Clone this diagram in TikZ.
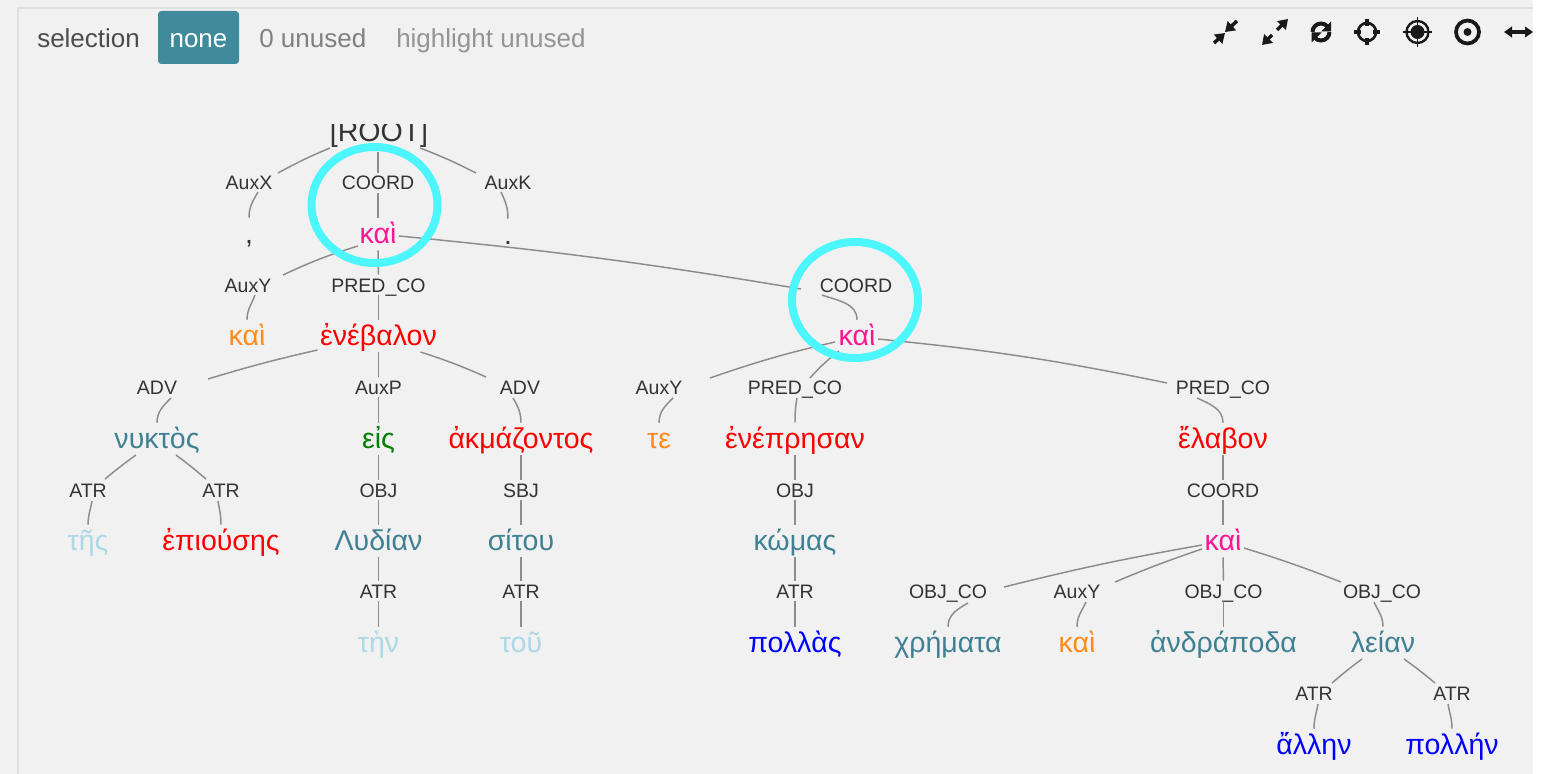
\documentclass[tikz,border=0pt]{standalone}
\usepackage{fontspec}
\setmainfont{Liberation Sans}
\usetikzlibrary{arrows.meta}
\definecolor{panelbg}{HTML}{F1F1F1}
\definecolor{panelline}{HTML}{DFDFDF}
\definecolor{btnteal}{HTML}{3F8A9B}
\definecolor{nounteal}{HTML}{3F8093}
\definecolor{verbred}{HTML}{FF0000}
\definecolor{conjpink}{HTML}{FF1493}
\definecolor{partorange}{HTML}{FF8C1A}
\definecolor{artblue}{HTML}{ADD8E6}
\definecolor{adjblue}{HTML}{0000FF}
\definecolor{prepgreen}{HTML}{008000}
\definecolor{ringcyan}{HTML}{4DF6FB}
\definecolor{labelgray}{HTML}{333333}
\definecolor{linkgray}{HTML}{8C8C8C}
\tikzset{
    word/.style={inner sep=0pt, text height=18.75pt, text depth=5.25pt, text=#1, font=\fontsize{21.4}{25}\selectfont},
    rel/.style={inner sep=0pt, text height=12.75pt, text depth=2.25pt, text=labelgray, font=\fontsize{14.6}{17}\selectfont},
    head/.style={inner sep=0pt, text=#1, font=\fontsize{19.5}{23}\selectfont},
    link/.style={draw=linkgray, line width=1.1pt},
    ring/.style={draw=ringcyan, line width=6pt},
    iconline/.style={draw=black!90, line width=#1},
}
\begin{document}
\begin{tikzpicture}[x=0.75pt, y=-0.75pt]
        \useasboundingbox (0, 0) rectangle (1547, 774);
        \fill [panelbg] (0, 0) rectangle (1533, 774);
        \fill [white] (1533, 0) rectangle (1547, 774);
        \draw [panelline, line width=1.5pt] (18, 774) -- (18, 8) -- (1533, 8);

        \node [head=black!70, anchor=base west] (selection) at (37, 48) {selection};
        \node [head=white, fill=btnteal, rounded corners=2.5pt, minimum width=60.75pt, minimum height=39.75pt, text height=15.75pt, text depth=0pt] (none) at (198.5, 37.5) {none};
        \node [head=black!50, anchor=base west] (unused) at (259, 48) {0 unused};
        \node [head=black!42, anchor=base west] (highlight) at (396, 48) {highlight unused};

        \begin{scope}
            \clip (300, 124.5) rectangle (460, 160);
            \node [inner sep=0pt, text=labelgray, anchor=base, font=\fontsize{21.4}{25}\selectfont] (root) at (379, 142) {[ROOT]};
        \end{scope}

        \node [rel] (auxx) at (249, 183) {AuxX};
        \node [rel] (coorda) at (378, 183) {COORD};
        \node [rel] (auxk) at (508, 183) {AuxK};
        \node [word=labelgray] (comma) at (249, 234) {,};
        \node [word=conjpink] (kaia) at (378, 234) {καὶ};
        \node [word=labelgray] (period) at (508, 235) {.};

        \node [rel] (auxya) at (248, 285) {AuxY};
        \node [rel] (predcoa) at (378.5, 285) {PRED\_CO};
        \node [rel] (coordb) at (856, 285) {COORD};
        \node [word=partorange] (kaib) at (247, 336) {καὶ};
        \node [word=verbred] (enebalon) at (378.5, 336) {ἐνέβαλον};
        \node [word=conjpink] (kaic) at (857, 336) {καὶ};

        \node [rel] (adva) at (157, 387) {ADV};
        \node [rel] (auxp) at (378.5, 387) {AuxP};
        \node [rel] (advb) at (520, 387) {ADV};
        \node [rel] (auxyb) at (659, 387) {AuxY};
        \node [rel] (predcob) at (795, 387) {PRED\_CO};
        \node [rel] (predcoc) at (1223, 387) {PRED\_CO};
        \node [word=nounteal] (nyktos) at (157, 439) {νυκτὸς};
        \node [word=prepgreen] (eis) at (378.5, 439) {εἰς};
        \node [word=verbred] (akmazontos) at (521, 439) {ἀκμάζοντος};
        \node [word=partorange] (te) at (659, 439) {τε};
        \node [word=verbred] (eneprisan) at (795, 439) {ἐνέπρησαν};
        \node [word=verbred] (elabon) at (1223, 439) {ἔλαβον};

        \node [rel] (atra) at (88, 490) {ATR};
        \node [rel] (atrb) at (221, 490) {ATR};
        \node [rel] (obja) at (378.5, 490) {OBJ};
        \node [rel] (sbj) at (521, 490) {SBJ};
        \node [rel] (objb) at (795, 490) {OBJ};
        \node [rel] (coordc) at (1223, 490) {COORD};
        \node [word=artblue] (tes) at (88, 541) {τῆς};
        \node [word=verbred] (epiouses) at (221, 541) {ἐπιούσης};
        \node [word=nounteal] (lydian) at (378.5, 541) {Λυδίαν};
        \node [word=nounteal] (sitou) at (521, 541) {σίτου};
        \node [word=nounteal] (komas) at (795, 541) {κώμας};
        \node [word=conjpink] (kaid) at (1223, 541) {καὶ};

        \node [rel] (atrc) at (378.5, 591) {ATR};
        \node [rel] (atrd) at (521, 591) {ATR};
        \node [rel] (atre) at (795, 591) {ATR};
        \node [rel] (objcoa) at (948, 591) {OBJ\_CO};
        \node [rel] (auxyc) at (1077, 591) {AuxY};
        \node [rel] (objcob) at (1223.5, 591) {OBJ\_CO};
        \node [rel] (objcoc) at (1382, 591) {OBJ\_CO};
        \node [word=artblue] (ten) at (378.5, 643) {τὴν};
        \node [word=artblue] (tou) at (521, 643) {τοῦ};
        \node [word=adjblue] (pollas) at (795, 643) {πολλὰς};
        \node [word=nounteal] (chremata) at (948, 643) {χρήματα};
        \node [word=partorange] (kaie) at (1077, 643) {καὶ};
        \node [word=nounteal] (andrapoda) at (1223.5, 643) {ἀνδράποδα};
        \node [word=nounteal] (leian) at (1383, 643) {λείαν};

        \node [rel] (atrf) at (1314, 693) {ATR};
        \node [rel] (atrg) at (1452, 693) {ATR};
        \node [word=adjblue] (allen) at (1314, 745) {ἄλλην};
        \node [word=adjblue] (pollen) at (1452, 745) {πολλήν};

        \draw [link] ([shift={(-49,6)}]root.base) to [bend right=3] ([shift={(29,-10)}]auxx.center);
        \draw [link] ([shift={(-1,10)}]root.base) -- (coorda.north);
        \draw [link] ([shift={(41,6)}]root.base) to [bend left=3] ([shift={(-32,-10)}]auxk.center);
        \draw [link] ([shift={(9,9)}]auxx.center) to [out=-120, in=90] (comma.north);
        \draw [link] (coorda.south) -- (kaia.north);
        \draw [link] ([shift={(-7,9)}]auxk.center) to [out=-65, in=90] (period.north);

        \draw [link] ([shift={(-20,12)}]kaia.center) to [bend right=4] ([shift={(35,-10)}]auxya.center);
        \draw [link] (kaia.south) -- (predcoa.north);
        \draw [link] ([shift={(21,2)}]kaia.center) to [bend left=2] ([shift={(-55,4)}]coordb.center);
        \draw [link] ([shift={(7,10)}]auxya.center) to [out=-110, in=90] (kaib.north);
        \draw [link] (predcoa.south) -- (enebalon.north);
        \draw [link] ([shift={(-34,10)}]coordb.center) to [out=-20, in=90] (kaic.north);

        \draw [link] ([shift={(-61,14)}]enebalon.center) to [bend right=2] ([shift={(51,-8)}]adva.center);
        \draw [link] (enebalon.south) -- (auxp.north);
        \draw [link] ([shift={(42,16)}]enebalon.center) to [bend left=3] ([shift={(-34,-10)}]advb.center);
        \draw [link] ([shift={(-22,6)}]kaic.center) to [bend right=3] ([shift={(51,-9)}]auxyb.center);
        \draw [link] ([shift={(-18,15)}]kaic.center) to [bend right=5] ([shift={(15,-9)}]predcob.center);
        \draw [link] ([shift={(21,3)}]kaic.center) to [bend left=3] ([shift={(-56,-4)}]predcoc.center);

        \draw [link] ([shift={(14,11)}]adva.center) to [out=-135, in=90] (nyktos.north);
        \draw [link] (auxp.south) -- (eis.north);
        \draw [link] ([shift={(-7,11)}]advb.center) to [out=-60, in=90] (akmazontos.north);
        \draw [link] ([shift={(14,11)}]auxyb.center) to [out=-135, in=90] (te.north);
        \draw [link] ([shift={(2,11)}]predcob.center) to [out=-100, in=90] (eneprisan.north);
        \draw [link] ([shift={(-26,11)}]predcoc.center) to [out=-25, in=90] (elabon.north);

        \draw [link] ([shift={(-21,16)}]nyktos.center) to [bend right=2] ([shift={(17,-11)}]atra.center);
        \draw [link] ([shift={(19,16)}]nyktos.center) to [bend left=2] ([shift={(-15,-11)}]atrb.center);
        \draw [link] (eis.south) -- (obja.north);
        \draw [link] (akmazontos.south) -- (sbj.north);
        \draw [link] (eneprisan.south) -- (objb.north);
        \draw [link] (elabon.south) -- (coordc.north);

        \draw [link] ([shift={(4,11)}]atra.center) to [out=-100, in=90] (tes.north);
        \draw [link] ([shift={(-3,11)}]atrb.center) to [out=-80, in=90] (epiouses.north);
        \draw [link] (obja.south) -- (lydian.north);
        \draw [link] (sbj.south) -- (sitou.north);
        \draw [link] (objb.south) -- (komas.north);
        \draw [link] (coordc.south) -- (kaid.north);

        \draw [link] (lydian.south) -- (atrc.north);
        \draw [link] (sitou.south) -- (atrd.north);
        \draw [link] (komas.south) -- (atre.north);
        \draw [link] ([shift={(-21,4)}]kaid.center) to [bend right=2] ([shift={(56,-4)}]objcoa.center);
        \draw [link] ([shift={(-21,8)}]kaid.center) to [bend right=2] ([shift={(38,-9)}]auxyc.center);
        \draw [link] (kaid.south) -- (objcob.north);
        \draw [link] ([shift={(21,7)}]kaid.center) to [bend left=2] ([shift={(-41,-9)}]objcoc.center);

        \draw [link] (atrc.south) -- (ten.north);
        \draw [link] (atrd.south) -- (tou.north);
        \draw [link] (atre.south) -- (pollas.north);
        \draw [link] ([shift={(20,12)}]objcoa.center) to [out=-150, in=90] (chremata.north);
        \draw [link] ([shift={(9,11)}]auxyc.center) to [out=-115, in=90] (kaie.north);
        \draw [link] (objcob.south) -- (andrapoda.north);
        \draw [link] ([shift={(-8,11)}]objcoc.center) to [out=-65, in=90] (leian.north);

        \draw [link] ([shift={(-21,16)}]leian.center) to [bend right=2] ([shift={(18,-10)}]atrf.center);
        \draw [link] ([shift={(21,16)}]leian.center) to [bend left=2] ([shift={(-17,-10)}]atrg.center);
        \draw [link] ([shift={(4,11)}]atrf.center) to [out=-100, in=90] (allen.north);
        \draw [link] ([shift={(-4,11)}]atrg.center) to [out=-80, in=90] (pollen.north);

        \draw [ring] (374.5, 205) ellipse (63 and 58);
        \draw [ring] (855, 300) ellipse (63 and 58);

        \draw [iconline=2.6pt, -{Triangle[length=7pt, width=9pt]}] (1237, 21) -- (1225, 32);
        \draw [iconline=2.6pt, -{Triangle[length=7pt, width=9pt]}] (1214, 43) -- (1225, 33);
        \draw [iconline=2.6pt, -{Triangle[length=7pt, width=9pt]}] (1272, 35) -- (1262, 45);
        \draw [iconline=2.6pt, -{Triangle[length=7pt, width=9pt]}] (1277, 30) -- (1288, 19);
        \draw [iconline=3pt] (1312.5, 32) arc (180:320:8.5);
        \draw [iconline=3pt] (1329.5, 32) arc (0:140:8.5);
        \fill [black!90] (1331, 21.5) -- (1331, 31.5) -- (1321, 31.5) -- cycle;
        \fill [black!90] (1311.5, 42.5) -- (1311.5, 32.5) -- (1321.5, 32.5) -- cycle;
        \draw [iconline=2pt] (1367, 32) circle (9);
        \draw [iconline=3pt] (1367, 19) -- (1367, 26) (1367, 38) -- (1367, 45) (1354, 32) -- (1361, 32) (1373, 32) -- (1380, 32);
        \draw [iconline=1.8pt] (1417.5, 32) circle (11);
        \fill [black!90] (1417.5, 32) circle (7);
        \draw [iconline=1.1pt] (1417.5, 17) -- (1417.5, 47) (1403, 32) -- (1432, 32);
        \draw [iconline=2.8pt] (1467.5, 32) circle (11.5);
        \fill [black!90] (1467.5, 32) circle (4);
        \draw [iconline=2.6pt, {Triangle[length=6pt, width=8pt]}-{Triangle[length=6pt, width=8pt]}] (1504, 32) -- (1533, 32);
    \end{tikzpicture}
\end{document}
